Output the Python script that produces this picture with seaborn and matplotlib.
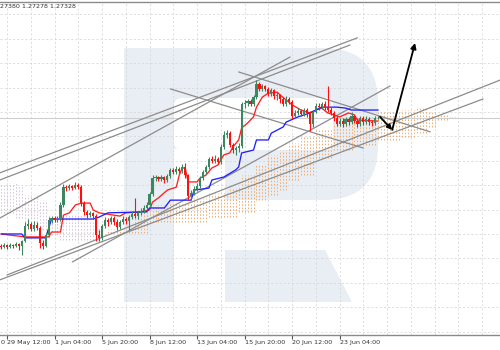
import numpy as np
import pandas as pd
import matplotlib
matplotlib.use('Agg')
import matplotlib.pyplot as plt
import seaborn as sns
from matplotlib.patches import FancyBboxPatch, Polygon
from matplotlib.transforms import IdentityTransform

# ---- data (GBPUSD H4) ----
first_open = 1.2338
close = [1.2335, 1.2341, 1.2335, 1.2341, 1.2338, 1.2344, 1.2338, 1.2354, 1.2400, 1.2406,
         1.2390, 1.2403, 1.2393, 1.2347, 1.2338, 1.2372, 1.2418, 1.2424, 1.2418, 1.2421,
         1.2464, 1.2519, 1.2516, 1.2523, 1.2516, 1.2526, 1.2519, 1.2470, 1.2443, 1.2433,
         1.2440, 1.2430, 1.2372, 1.2363, 1.2400, 1.2418, 1.2412, 1.2424, 1.2412, 1.2396,
         1.2412, 1.2421, 1.2415, 1.2427, 1.2437, 1.2430, 1.2440, 1.2446, 1.2455, 1.2464,
         1.2498, 1.2547, 1.2550, 1.2544, 1.2550, 1.2541, 1.2553, 1.2572, 1.2566, 1.2575,
         1.2569, 1.2581, 1.2556, 1.2492, 1.2501, 1.2513, 1.2523, 1.2547, 1.2566, 1.2581,
         1.2606, 1.2599, 1.2606, 1.2596, 1.2642, 1.2679, 1.2685, 1.2649, 1.2633, 1.2639,
         1.2646, 1.2775, 1.2778, 1.2784, 1.2775, 1.2796, 1.2836, 1.2821, 1.2830, 1.2821,
         1.2805, 1.2818, 1.2799, 1.2802, 1.2790, 1.2775, 1.2790, 1.2781, 1.2738, 1.2747,
         1.2753, 1.2744, 1.2756, 1.2747, 1.2713, 1.2750, 1.2768, 1.2765, 1.2775, 1.2765,
         1.2756, 1.2747, 1.2732, 1.2713, 1.2722, 1.2713, 1.2728, 1.2719, 1.2738, 1.2722,
         1.2713, 1.2732, 1.2719, 1.2728, 1.2719, 1.2716, 1.2732, 1.2733]
high = [1.2344, 1.2347, 1.2344, 1.2347, 1.2344, 1.2350, 1.2347, 1.2357, 1.2412, 1.2421,
        1.2412, 1.2415, 1.2412, 1.2400, 1.2357, 1.2378, 1.2427, 1.2430, 1.2430, 1.2430,
        1.2473, 1.2529, 1.2526, 1.2529, 1.2526, 1.2535, 1.2532, 1.2526, 1.2476, 1.2449,
        1.2446, 1.2443, 1.2437, 1.2387, 1.2406, 1.2427, 1.2424, 1.2430, 1.2430, 1.2421,
        1.2418, 1.2430, 1.2427, 1.2433, 1.2446, 1.2486, 1.2446, 1.2455, 1.2464, 1.2473,
        1.2504, 1.2556, 1.2556, 1.2553, 1.2556, 1.2553, 1.2559, 1.2578, 1.2578, 1.2584,
        1.2581, 1.2590, 1.2593, 1.2559, 1.2510, 1.2523, 1.2532, 1.2553, 1.2572, 1.2587,
        1.2612, 1.2615, 1.2618, 1.2612, 1.2652, 1.2692, 1.2695, 1.2692, 1.2655, 1.2646,
        1.2655, 1.2781, 1.2787, 1.2790, 1.2790, 1.2802, 1.2848, 1.2842, 1.2836, 1.2833,
        1.2827, 1.2824, 1.2821, 1.2811, 1.2805, 1.2796, 1.2799, 1.2796, 1.2787, 1.2756,
        1.2762, 1.2759, 1.2762, 1.2762, 1.2753, 1.2756, 1.2778, 1.2778, 1.2781, 1.2784,
        1.2830, 1.2765, 1.2753, 1.2738, 1.2732, 1.2732, 1.2735, 1.2735, 1.2750, 1.2741,
        1.2732, 1.2738, 1.2738, 1.2738, 1.2735, 1.2725, 1.2738, 1.2738]
low = [1.2329, 1.2332, 1.2329, 1.2332, 1.2332, 1.2335, 1.2326, 1.2310, 1.2350, 1.2390,
       1.2384, 1.2384, 1.2387, 1.2332, 1.2329, 1.2335, 1.2366, 1.2409, 1.2412, 1.2412,
       1.2415, 1.2458, 1.2507, 1.2510, 1.2510, 1.2513, 1.2513, 1.2461, 1.2433, 1.2424,
       1.2427, 1.2421, 1.2354, 1.2354, 1.2357, 1.2393, 1.2400, 1.2406, 1.2403, 1.2387,
       1.2390, 1.2406, 1.2406, 1.2387, 1.2421, 1.2424, 1.2421, 1.2433, 1.2440, 1.2449,
       1.2458, 1.2492, 1.2538, 1.2538, 1.2538, 1.2532, 1.2535, 1.2547, 1.2559, 1.2559,
       1.2563, 1.2563, 1.2547, 1.2479, 1.2483, 1.2495, 1.2507, 1.2516, 1.2541, 1.2559,
       1.2575, 1.2593, 1.2593, 1.2590, 1.2590, 1.2636, 1.2670, 1.2642, 1.2624, 1.2618,
       1.2627, 1.2639, 1.2762, 1.2768, 1.2768, 1.2768, 1.2790, 1.2815, 1.2815, 1.2815,
       1.2799, 1.2799, 1.2790, 1.2787, 1.2778, 1.2768, 1.2768, 1.2775, 1.2728, 1.2732,
       1.2741, 1.2738, 1.2738, 1.2735, 1.2692, 1.2704, 1.2747, 1.2756, 1.2759, 1.2756,
       1.2750, 1.2741, 1.2722, 1.2707, 1.2707, 1.2704, 1.2707, 1.2710, 1.2713, 1.2716,
       1.2704, 1.2707, 1.2710, 1.2713, 1.2710, 1.2707, 1.2710, 1.2728]

tenkan_bar = [0, 8, 16, 17, 20, 21, 23, 25, 27, 30, 31, 33, 40, 42, 47, 50, 51, 53, 56, 59,
              60, 61, 62, 63, 66, 67, 69, 71, 73, 74, 75, 77, 78, 80, 81, 83, 85, 86, 88, 90,
              93, 94, 96, 98, 101, 104, 106, 108, 110, 114, 117, 119, 120, 127]
tenkan_val = [1.2375, 1.2366, 1.2366, 1.2381, 1.2381, 1.2433, 1.2440, 1.2464, 1.2470, 1.2470,
              1.2449, 1.2440, 1.2430, 1.2440, 1.2443, 1.2449, 1.2473, 1.2486, 1.2510, 1.2519,
              1.2556, 1.2578, 1.2578, 1.2535, 1.2535, 1.2547, 1.2556, 1.2578, 1.2587, 1.2602,
              1.2618, 1.2624, 1.2642, 1.2664, 1.2701, 1.2716, 1.2735, 1.2765, 1.2796, 1.2808,
              1.2811, 1.2802, 1.2787, 1.2772, 1.2756, 1.2747, 1.2756, 1.2762, 1.2747, 1.2735,
              1.2747, 1.2741, 1.2725, 1.2722]
kijun_bar = [0, 7, 8, 15, 17, 31, 33, 36, 49, 50, 55, 57, 64, 65, 70, 71, 75, 79, 80, 81,
             85, 86, 90, 91, 95, 96, 100, 104, 106, 108, 113, 116, 118, 127]
kijun_val = [1.2375, 1.2375, 1.2363, 1.2363, 1.2421, 1.2421, 1.2427, 1.2440, 1.2443, 1.2455,
             1.2455, 1.2479, 1.2479, 1.2510, 1.2516, 1.2541, 1.2550, 1.2572, 1.2581, 1.2624,
             1.2633, 1.2664, 1.2664, 1.2685, 1.2704, 1.2719, 1.2735, 1.2747, 1.2756, 1.2765,
             1.2765, 1.2762, 1.2756, 1.2756]

# cloud spans as (value, number of bars)
span_a_val = [1.2440, 1.2424, 1.2412, 1.2387, 1.2372, 1.2357, 1.2372, 1.2390, 1.2433, 1.2455,
              1.2464, 1.2473, 1.2486, 1.2501, 1.2519, 1.2556, 1.2587, 1.2618, 1.2633, 1.2655,
              1.2673, 1.2695, 1.2716, 1.2735, 1.2750, 1.2756, 1.2765, 1.2750, 1.2741, 1.2735]
span_a_run = [5, 3, 5, 4, 3, 14, 2, 9, 3, 2, 7, 7, 6, 7, 4, 5, 4, 4, 3, 4, 5, 6, 7, 8, 8, 5, 4, 3, 4, 3]
span_b_val = [1.2532, 1.2523, 1.2495, 1.2479, 1.2433, 1.2418, 1.2393, 1.2378, 1.2412, 1.2427,
              1.2443, 1.2479, 1.2495, 1.2510, 1.2541, 1.2556, 1.2609, 1.2633, 1.2649, 1.2664,
              1.2673, 1.2685, 1.2704, 1.2725, 1.2732]
span_b_run = [6, 2, 5, 3, 14, 2, 2, 16, 20, 10, 6, 4, 4, 3, 4, 5, 6, 7, 8, 8, 5, 4, 3, 4, 3]

# hand-drawn trend lines: start bar, start price, end bar, end price
trend_bar0 = [-0.4, -0.4, -0.4, 2, -0.4, 24, 80, 57]
trend_p0 = [1.2563, 1.2541, 1.2424, 1.2249, 1.2234, 1.2289, 1.2873, 1.2821]
trend_bar1 = [120, 117.5, 97.3, 168, 162.3, 131, 144.5, 122]
trend_p1 = [1.2978, 1.2956, 1.2919, 1.2848, 1.2790, 1.2830, 1.2689, 1.2639]
arrow_bar = [127.6, 131.7, 139.4]
arrow_price = [1.2735, 1.2695, 1.2962]
bid_price = 1.2733

tick_bars = [2, 18, 34, 50, 66, 82, 98, 114]
tick_labels = ['29 May 12:00', '1 Jun 04:00', '5 Jun 20:00', '8 Jun 12:00',
               '13 Jun 04:00', '15 Jun 20:00', '20 Jun 12:00', '23 Jun 04:00']
header = '27380 1.27278 1.27328'
edge_label = '0'

# ---- frames ----
df = pd.DataFrame({'close': close, 'high': high, 'low': low})
df['open'] = [first_open] + close[:-1]
df['bar'] = np.arange(len(df))
df['up'] = df['close'] >= df['open']

cloud = pd.DataFrame({'a': np.repeat(span_a_val, span_a_run),
                      'b': np.repeat(span_b_val, span_b_run)})
cloud['bar'] = np.arange(len(cloud))

sns.set_style('white')
plt.rcParams['font.family'] = ['DejaVu Sans']

W, H = 500, 350
fig = plt.figure(figsize=(5, 3.5), dpi=100)
ax = fig.add_axes([0, 15 / H, 1, 333 / H])
ax.set_xlim(-0.36, 168.0)
ax.set_ylim(1.20645, 1.30881)

# watermark logo (pixel coordinates)
T = IdentityTransform()
pale = '#e9edf4'


def box(x0, y0, x1, y1, r, fc, z):
    ax.add_patch(FancyBboxPatch((x0, H - y1), x1 - x0, y1 - y0,
                                boxstyle=f'round,pad=0,rounding_size={r}',
                                transform=T, fc=fc, ec='none', zorder=z))


box(124, 48, 378, 200, 55, pale, 0.1)
box(174, 98, 333, 150, 8, 'white', 0.15)
box(174, 149, 225, 201, 0.01, 'white', 0.15)
box(124, 48, 174, 302, 0.01, pale, 0.2)
ax.add_patch(Polygon([(225, H - 250), (325, H - 250), (352, H - 302), (225, H - 302)],
                     closed=True, transform=T, fc=pale, ec='none', zorder=0.2))

# grid
ax.set_xticks(np.arange(2, 168, 8), minor=True)
ax.set_yticks(np.arange(1.2075, 1.309, 0.0075))
ax.grid(True, which='both', axis='both', color='#d8d8d8', lw=0.6, ls=(0, (2.5, 2.5)), zorder=0.5)
ax.set_axisbelow(True)

# ichimoku cloud: dotted columns per bar
bull = cloud['a'] >= cloud['b']
for ok, col in [(True, '#f4ad70'), (False, '#d6c6de')]:
    sub = cloud[bull == ok]
    ax.vlines(sub['bar'], sub[['a', 'b']].min(axis=1), sub[['a', 'b']].max(axis=1),
              colors=col, lw=0.7, linestyles=(0, (1.6, 1.8)), zorder=1)

ax.axhline(bid_price, color='#cfcfcf', lw=0.8, zorder=1.5)

for b0, p0, b1, p1 in zip(trend_bar0, trend_p0, trend_bar1, trend_p1):
    ax.plot([b0, b1], [p0, p1], color='#8c8c8c', lw=0.9, zorder=2)

sns.lineplot(x=tenkan_bar, y=tenkan_val, ax=ax, color='#ff2020', lw=0.95,
             estimator=None, sort=False, zorder=3)
sns.lineplot(x=kijun_bar, y=kijun_val, ax=ax, color='#2020ff', lw=0.95,
             estimator=None, sort=False, zorder=3)

# candles
cols = np.where(df['up'], '#3a8760', '#ff1010')
ax.vlines(df['bar'], df['low'], df['high'], colors=cols, lw=0.8, zorder=4)
body_lo = df[['open', 'close']].min(axis=1)
body_h = np.maximum((df['close'] - df['open']).abs(), 0.0001)
ax.bar(df['bar'], body_h, bottom=body_lo, width=0.72, color=cols, lw=0, zorder=4.1)

# arrows
ax.annotate('', xy=(arrow_bar[1], arrow_price[1]), xytext=(arrow_bar[0], arrow_price[0]),
            arrowprops=dict(arrowstyle='-|>', color='black', lw=1.3, mutation_scale=7,
                            shrinkA=0, shrinkB=0), zorder=5)
ax.annotate('', xy=(arrow_bar[2], arrow_price[2]), xytext=(arrow_bar[1], arrow_price[1]),
            arrowprops=dict(arrowstyle='-|>', color='black', lw=1.3, mutation_scale=8,
                            shrinkA=0, shrinkB=0), zorder=5)

# axes styling
ax.set_xticks(tick_bars)
ax.set_xticklabels(tick_labels)
for lbl in ax.get_xticklabels():
    lbl.set_horizontalalignment('left')
ax.tick_params(axis='x', which='major', length=3, width=0.8, color='#555555',
               labelsize=4.6, labelcolor='#333333', pad=0.6, direction='out', bottom=True)
ax.tick_params(axis='x', which='minor', length=0)
ax.tick_params(axis='y', length=0, labelleft=False)
for s in ['left', 'right']:
    ax.spines[s].set_visible(False)
for s in ['top', 'bottom']:
    ax.spines[s].set_color('#8a8a8a')
    ax.spines[s].set_linewidth(1.0)

# tail of the previous tick label at the left edge
fig.text(0.001, 1 - 342 / H, edge_label, fontsize=4.6, color='#333333', ha='left', va='center')

fig.text(0.0, 1 - 7 / H, header, fontsize=4.6, color='#333333', ha='left', va='center')

fig.savefig('out.png', dpi=100)
